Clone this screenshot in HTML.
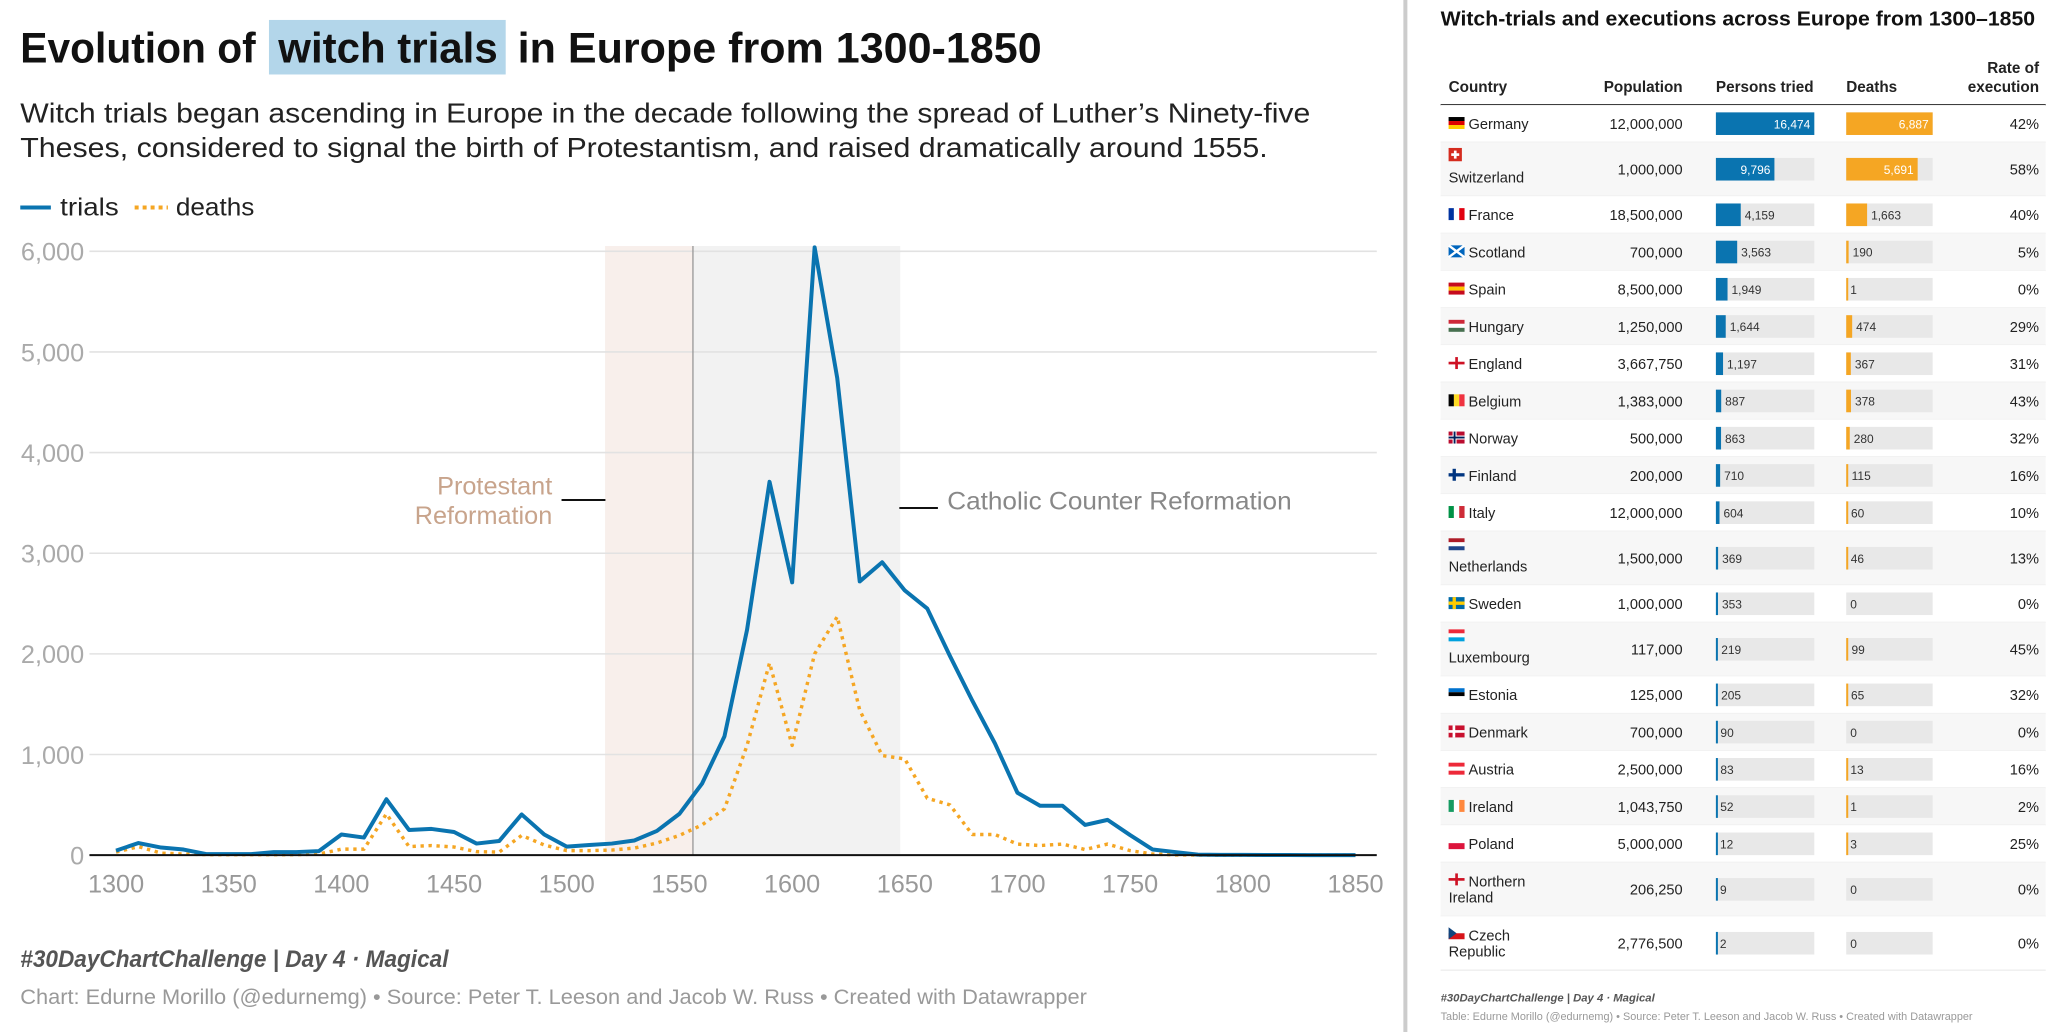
<!DOCTYPE html>
<html><head><meta charset="utf-8"><style>
html,body{margin:0;padding:0;background:#fff;}
svg{display:block;font-family:"Liberation Sans",sans-serif;}
</style></head><body>
<svg id="s" width="2062" height="1032" viewBox="0 0 1550 776" xmlns="http://www.w3.org/2000/svg">
<rect x="202" y="15" width="178" height="41" fill="#b3d6ea"/>
<g font-weight="bold" font-size="32" fill="#111">
<text x="15" y="47" textLength="177" lengthAdjust="spacingAndGlyphs">Evolution of</text>
<text x="209" y="47" textLength="165" lengthAdjust="spacingAndGlyphs">witch trials</text>
<text x="389" y="47" textLength="394" lengthAdjust="spacingAndGlyphs">in Europe from 1300-1850</text>
</g>
<g font-size="21" fill="#222">
<text x="15" y="92" textLength="970" lengthAdjust="spacingAndGlyphs">Witch trials began ascending in Europe in the decade following the spread of Luther’s Ninety-five</text>
<text x="15" y="118" textLength="938" lengthAdjust="spacingAndGlyphs">Theses, considered to signal the birth of Protestantism, and raised dramatically around 1555.</text>
</g>
<g>
<line x1="15" y1="156" x2="38" y2="156" stroke="#0a74b0" stroke-width="3"/>
<text x="45" y="162" font-size="19" fill="#222" textLength="44" lengthAdjust="spacingAndGlyphs">trials</text>
<line x1="101" y1="156" x2="126" y2="156" stroke="#f5a623" stroke-width="3" stroke-dasharray="3 3"/>
<text x="132" y="162" font-size="19" fill="#222" textLength="59" lengthAdjust="spacingAndGlyphs">deaths</text>
</g>
<g id="chart"></g>
<g font-size="19">
<text x="415" y="372" text-anchor="end" fill="#c8a48c">Protestant</text>
<text x="415" y="394" text-anchor="end" fill="#c8a48c">Reformation</text>
<line x1="422" y1="376" x2="455" y2="376" stroke="#111" stroke-width="1.5"/>
<line x1="676" y1="382" x2="705" y2="382" stroke="#111" stroke-width="1.5"/>
<text x="712" y="383" fill="#888" textLength="259" lengthAdjust="spacingAndGlyphs">Catholic Counter Reformation</text>
</g>
<text x="15" y="727" font-size="18" font-weight="bold" font-style="italic" fill="#555" textLength="322" lengthAdjust="spacingAndGlyphs">#30DayChartChallenge | Day 4 · Magical</text>
<text x="15" y="755" font-size="16" fill="#999" textLength="802" lengthAdjust="spacingAndGlyphs">Chart: Edurne Morillo (@edurnemg) • Source: Peter T. Leeson and Jacob W. Russ • Created with Datawrapper</text>
<rect x="1055" y="0" width="3" height="776" fill="#ccc"/>
<text x="1083" y="19" font-size="15.5" font-weight="bold" fill="#111" textLength="447" lengthAdjust="spacingAndGlyphs">Witch-trials and executions across Europe from 1300–1850</text>
<g font-size="11.5" font-weight="bold" fill="#222">
<text x="1089" y="69">Country</text>
<text x="1265" y="69" text-anchor="end">Population</text>
<text x="1290" y="69">Persons tried</text>
<text x="1388" y="69">Deaths</text>
<text x="1533" y="55" text-anchor="end">Rate of</text>
<text x="1533" y="69" text-anchor="end">execution</text>
</g>
<line x1="1083" y1="79" x2="1538" y2="79" stroke="#222" stroke-width="1.5"/>
<g id="table"></g>
<text x="1083" y="753" font-size="8.5" font-weight="bold" font-style="italic" fill="#555">#30DayChartChallenge | Day 4 · Magical</text>
<text x="1083" y="767" font-size="8" fill="#999" textLength="400" lengthAdjust="spacingAndGlyphs">Table: Edurne Morillo (@edurnemg) • Source: Peter T. Leeson and Jacob W. Russ • Created with Datawrapper</text>
</svg>
<script>
const years = [];
for (let y = 1300; y <= 1850; y += 10) years.push(y);
const trials = [45,120,75,55,10,10,10,30,30,40,205,175,555,250,260,230,115,140,405,205,85,100,115,145,240,410,710,1180,2240,3710,2710,6040,4740,2720,2910,2630,2450,1980,1535,1110,620,490,490,300,350,200,55,30,5,3,2,1,1,0,0,0];
const deaths = [30,85,20,10,5,5,5,5,5,10,60,60,410,85,95,80,35,30,195,100,45,45,50,70,120,195,300,460,1090,1910,1090,2000,2370,1440,990,955,565,500,205,205,110,95,110,55,110,45,10,3,1,0,0,0,0,0,0,0];
const yTicks = [0,1000,2000,3000,4000,5000,6000];
const xTicks = [1300,1350,1400,1450,1500,1550,1600,1650,1700,1750,1800,1850];
const protestantRange = [1517, 1556];
const counterRange = [1556, 1648];

const NS = "http://www.w3.org/2000/svg";
function mk(tag, attrs, parent){const e=document.createElementNS(NS,tag);for(const k in attrs)e.setAttribute(k,attrs[k]);parent.appendChild(e);return e;}
const X = y => 87 + (y - 1300) * (1019 - 87) / 550;
const Y = v => 643 - v * (643 - 189) / 6000;
const chart = document.getElementById('chart');

let r = mk('rect',{x:X(protestantRange[0]),y:185,width:X(protestantRange[1])-X(protestantRange[0]),height:458,fill:'#f8efeb'},chart);


r = mk('rect',{x:X(counterRange[0]),y:185,width:X(counterRange[1])-X(counterRange[0]),height:458,fill:'#f2f2f2'},chart);



yTicks.forEach(v=>{
  if(v>0){const g=mk('line',{x1:67,x2:1035,y1:Y(v),y2:Y(v),stroke:'#e2e2e2','stroke-width':1.2},chart);
  
  }
  const t=mk('text',{x:63,y:Y(v)+7,'text-anchor':'end','font-size':19,fill:'#aaa'},chart);
  t.textContent=v.toLocaleString('en-US');
  
  
});
let vl = mk('line',{x1:X(1556),x2:X(1556),y1:185,y2:643,stroke:'#999','stroke-width':1},chart);


xTicks.forEach(v=>{
  const t=mk('text',{x:X(v),y:671,'text-anchor':'middle','font-size':19,fill:'#999'},chart);
  t.textContent=v;
  
  
});
const pts = arr => arr.map((v,i)=>X(years[i]).toFixed(1)+','+Y(v).toFixed(1)).join(' ');
let dl = mk('polyline',{points:pts(deaths),fill:'none',stroke:'#f5a623','stroke-width':2.6,'stroke-dasharray':'2.5 3.5','stroke-linejoin':'round'},chart);


let tl = mk('polyline',{points:pts(trials),fill:'none',stroke:'#0a74b0','stroke-width':3,'stroke-linejoin':'round'},chart);


let base = mk('line',{x1:67,x2:1035,y1:643,y2:643,stroke:'#111','stroke-width':1.5},chart);



// table
const countries = ["Germany","Switzerland","France","Scotland","Spain","Hungary","England","Belgium","Norway","Finland","Italy","Netherlands","Sweden","Luxembourg","Estonia","Denmark","Austria","Ireland","Poland","Northern|Ireland","Czech|Republic"];
const population = ["12,000,000","1,000,000","18,500,000","700,000","8,500,000","1,250,000","3,667,750","1,383,000","500,000","200,000","12,000,000","1,500,000","1,000,000","117,000","125,000","700,000","2,500,000","1,043,750","5,000,000","206,250","2,776,500"];
const tried = [16474,9796,4159,3563,1949,1644,1197,887,863,710,604,369,353,219,205,90,83,52,12,9,2];
const killed = [6887,5691,1663,190,1,474,367,378,280,115,60,46,0,99,65,0,13,1,3,0,0];
const rates = ["42%","58%","40%","5%","0%","29%","31%","43%","32%","16%","10%","13%","0%","45%","32%","0%","16%","2%","25%","0%","0%"];
const tall = [1,11,13]; // flag above name
const flags = [
 ['h',['#000','#d00','#fc0']],['ch',[]],['v',['#0033a0','#fff','#e1000f']],['sc',[]],['h',['#c60b1e','#ffc400','#c60b1e']],
 ['h',['#ce2939','#fff','#477050']],['en',[]],['v',['#000','#fdda24','#ef3340']],['no',[]],['fi',[]],
 ['v',['#009246','#fff','#ce2b37']],['h',['#ae1c28','#fff','#21468b']],['se',[]],['h',['#ed2939','#fff','#00a1de']],['h',['#0072ce','#000','#fff']],
 ['dk',[]],['h',['#ed2939','#fff','#ed2939']],['v',['#169b62','#fff','#ff883e']],['h',['#fff','#dc143c']],['en',[]],['cz',[]]
];
const tb = document.getElementById('table');
const maxT = Math.max(...tried), maxK = Math.max(...killed);
let y0 = 79;
function flag(g,kind,cols,fx,fy){
  const w=12,h=9;
  if(kind==='h'){cols.forEach((c,i)=>mk('rect',{x:fx,y:fy+i*h/cols.length,width:w,height:h/cols.length,fill:c},g));}
  else if(kind==='v'){cols.forEach((c,i)=>mk('rect',{x:fx+i*w/cols.length,y:fy,width:w/cols.length,height:h,fill:c},g));}
  else if(kind==='ch'){mk('rect',{x:fx,y:fy-1,width:10,height:10,fill:'#d52b1e'},g);mk('rect',{x:fx+4,y:fy+1,width:2,height:6,fill:'#fff'},g);mk('rect',{x:fx+2,y:fy+3,width:6,height:2,fill:'#fff'},g);}
  else if(kind==='sc'){mk('rect',{x:fx,y:fy,width:w,height:h,fill:'#0065bd'},g);mk('path',{d:`M${fx} ${fy}L${fx+w} ${fy+h}M${fx+w} ${fy}L${fx} ${fy+h}`,stroke:'#fff','stroke-width':1.8},g);}
  else if(kind==='en'){mk('rect',{x:fx+5,y:fy,width:2,height:h,fill:'#ce1124'},g);mk('rect',{x:fx,y:fy+3.5,width:w,height:2,fill:'#ce1124'},g);}
  else if(kind==='fi'){mk('rect',{x:fx+3,y:fy,width:2.5,height:h,fill:'#003580'},g);mk('rect',{x:fx,y:fy+3.3,width:w,height:2.5,fill:'#003580'},g);}
  else if(kind==='se'){mk('rect',{x:fx,y:fy,width:w,height:h,fill:'#006aa7'},g);mk('rect',{x:fx+3,y:fy,width:2.5,height:h,fill:'#fecc00'},g);mk('rect',{x:fx,y:fy+3.3,width:w,height:2.5,fill:'#fecc00'},g);}
  else if(kind==='no'){mk('rect',{x:fx,y:fy,width:w,height:h,fill:'#ba0c2f'},g);mk('rect',{x:fx+3,y:fy,width:3,height:h,fill:'#fff'},g);mk('rect',{x:fx,y:fy+3,width:w,height:3,fill:'#fff'},g);mk('rect',{x:fx+3.8,y:fy,width:1.4,height:h,fill:'#00205b'},g);mk('rect',{x:fx,y:fy+3.8,width:w,height:1.4,fill:'#00205b'},g);}
  else if(kind==='dk'){mk('rect',{x:fx,y:fy,width:w,height:h,fill:'#c8102e'},g);mk('rect',{x:fx+3,y:fy,width:2,height:h,fill:'#fff'},g);mk('rect',{x:fx,y:fy+3.5,width:w,height:2,fill:'#fff'},g);}
  else if(kind==='cz'){mk('rect',{x:fx,y:fy,width:w,height:h/2,fill:'#fff'},g);mk('rect',{x:fx,y:fy+h/2,width:w,height:h/2,fill:'#d7141a'},g);mk('path',{d:`M${fx} ${fy}L${fx+6} ${fy+h/2}L${fx} ${fy+h}Z`,fill:'#11457e'},g);}
}
countries.forEach((c,i)=>{
  const two = c.includes('|') || tall.includes(i);
  const h = two ? 40.5 : 28;
  const g = mk('g',{},tb);
  
  
  mk('rect',{x:1083,y:y0,width:455,height:h,fill:i%2? '#f7f7f7':'#fff'},g);
  mk('line',{x1:1083,x2:1538,y1:y0+h,y2:y0+h,stroke:'#eee','stroke-width':1},g);
  const cy = y0 + h/2;
  const tA = {'font-size':11,fill:'#222'};
  if(tall.includes(i)){
    flag(g,flags[i][0],flags[i][1],1089,cy-15);
    const t=mk('text',Object.assign({x:1089,y:cy+10},tA),g);t.textContent=c;
  } else if(c.includes('|')){
    const p=c.split('|');
    flag(g,flags[i][0],flags[i][1],1089,cy-12);
    let t=mk('text',Object.assign({x:1104,y:cy-2},tA),g);t.textContent=p[0];
    t=mk('text',Object.assign({x:1089,y:cy+10},tA),g);t.textContent=p[1];
  } else {
    flag(g,flags[i][0],flags[i][1],1089,cy-5);
    const t=mk('text',Object.assign({x:1104,y:cy+4},tA),g);t.textContent=c;
  }
  let t=mk('text',Object.assign({x:1265,y:cy+4,'text-anchor':'end'},tA),g);t.textContent=population[i];
  function bar(x0,W,v,max,col){
    mk('rect',{x:x0,y:cy-8.5,width:W,height:17,fill:'#e8e8e8'},g);
    const w = W*v/max;
    const b = mk('rect',{x:x0,y:cy-8.5,width:Math.max(w, v>0?1.5:0),height:17,fill:col},g);
    
    
    const lbl=v.toLocaleString('en-US');
    let tt;
    if(w>40){tt=mk('text',{x:x0+w-3,y:cy+3.5,'text-anchor':'end','font-size':9,fill:'#fff'},g);}
    else{tt=mk('text',{x:x0+Math.max(w,0)+3,y:cy+3.5,'font-size':9,fill:'#333'},g);}
    tt.textContent=lbl;
  }
  bar(1290,74,tried[i],maxT,'#0a74b0');
  bar(1388,65,killed[i],maxK,'#f5a623');
  t=mk('text',Object.assign({x:1533,y:cy+4,'text-anchor':'end'},tA),g);t.textContent=rates[i];
  y0 += h;
});
</script>
</body></html>
